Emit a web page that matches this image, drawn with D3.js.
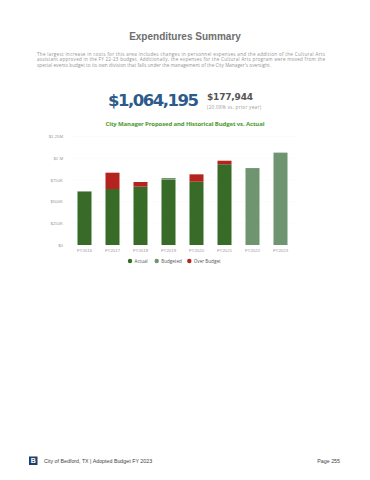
<!DOCTYPE html>
<head>
  <meta charset="utf-8" />
  <script src="https://cdn.jsdelivr.net/npm/d3@7"></script>
  <style>
    body { margin: 0; background: #fff; }
    svg { font-family: "Open Sans", "Liberation Sans", sans-serif; }
  </style>
</head>
<body>
  <svg class="page" width="370" height="480"></svg>
  <script>
    const years = ["FY2016", "FY2017", "FY2018", "FY2019", "FY2020", "FY2021", "FY2022", "FY2023"];
    const actual = [614000, 833000, 726000, 752000, 814000, 971000, null, null];
    const budgeted = [621000, 645000, 672000, 772000, 729000, 930000, 886251, 1064195];
    const yTicks = [0, 250000, 500000, 750000, 1000000, 1250000];
    const tickLabels = ["$0", "$250K", "$500K", "$750K", "$1 M", "$1.25M"];
    const legendNames = ["Actual", "Budgeted", "Over Budget"];

    const cActual = "#376b27", cBudget = "#6e9470", cOver = "#b5231f";
    const svg = d3.select(".page");

    // header
    svg.append("text").attr("x", 185).attr("y", 40).attr("text-anchor", "middle")
      .attr("font-size", 10).attr("font-weight", "bold").attr("fill", "#6e6e6e")
      .attr("font-family", "Liberation Sans, sans-serif").text("Expenditures Summary");
    const para = [
      "The largest increase in costs for this area includes changes in personnel expenses and the addition of the Cultural Arts",
      "assistant approved in the FY 22-23 budget.  Additionally, the expenses for the Cultural Arts program were moved from the",
      "special events budget to its own division that falls under the management of the City Manager's oversight."
    ];
    svg.selectAll("text.para").data(para).enter().append("text").attr("class", "para")
      .attr("x", 37).attr("y", (d, i) => 55.5 + i * 5.8)
      .attr("font-size", 4.6).attr("fill", "#939393").attr("textLength", (d, i) => i === 2 ? 234 : 288)
      .text((d) => d);

    svg.append("text").attr("x", 199).attr("y", 106).attr("text-anchor", "end")
      .attr("font-size", 16.5).attr("font-weight", "bold").attr("fill", "#2c5a8a")
      .attr("font-family", "DejaVu Sans, sans-serif").attr("textLength", 91).text("$1,064,195");
    svg.append("text").attr("x", 207).attr("y", 99.5)
      .attr("font-size", 9).attr("font-weight", "bold").attr("fill", "#555")
      .attr("font-family", "DejaVu Sans, sans-serif").attr("textLength", 46).text("$177,944");
    svg.append("text").attr("x", 207).attr("y", 109)
      .attr("font-size", 4.6).attr("fill", "#999").attr("textLength", 54).text("(20.08% vs. prior year)");

    svg.append("text").attr("x", 185).attr("y", 125.5).attr("text-anchor", "middle")
      .attr("font-size", 6).attr("font-weight", "bold").attr("fill", "#4a9a2c")
      .attr("textLength", 159).text("City Manager Proposed and Historical Budget vs. Actual");

    // chart
    const x = d3.scaleBand().domain(years).range([70.5, 294.5]).paddingInner(0.5).paddingOuter(0.25);
    const y = d3.scaleLinear().domain([0, 1250000]).range([245, 136.5]);

    const grid = svg.append("g");
    grid.selectAll("line").data(yTicks.slice(1)).enter().append("line")
      .attr("x1", 70).attr("x2", 296).attr("y1", (d) => y(d)).attr("y2", (d) => y(d))
      .attr("stroke", "#f1f1f1").attr("stroke-width", 0.5).attr("stroke-dasharray", "1,1");

    const yAxis = svg.append("g").attr("transform", "translate(66,0)")
      .call(d3.axisLeft(y).tickValues(yTicks).tickFormat((d, i) => tickLabels[i]).tickSize(0));
    yAxis.select(".domain").remove();
    yAxis.selectAll("text").attr("font-size", 4.3).attr("fill", "#999").attr("dy", "0.32em");

    const xAxis = svg.append("g").attr("transform", "translate(0,248)")
      .call(d3.axisBottom(x).tickSize(0));
    xAxis.select(".domain").remove();
    xAxis.selectAll("text").attr("font-size", 4.3).attr("fill", "#999").attr("dy", "0.3em");

    const rows = years.map((yr, i) => ({ yr, a: actual[i], b: budgeted[i] }));
    const bars = svg.append("g");
    rows.forEach((r) => {
      const g = bars.append("g");
      if (r.a == null) {
        g.append("rect").attr("x", x(r.yr)).attr("width", x.bandwidth())
          .attr("y", y(r.b)).attr("height", y(0) - y(r.b)).attr("fill", cBudget);
        return;
      }
      const base = Math.min(r.a, r.b);
      g.append("rect").attr("x", x(r.yr)).attr("width", x.bandwidth())
        .attr("y", y(base)).attr("height", y(0) - y(base)).attr("fill", cActual);
      if (r.a > r.b) {
        g.append("rect").attr("x", x(r.yr)).attr("width", x.bandwidth())
          .attr("y", y(r.a)).attr("height", y(r.b) - y(r.a)).attr("fill", cOver);
      } else {
        g.append("rect").attr("x", x(r.yr)).attr("width", x.bandwidth())
          .attr("y", y(r.b)).attr("height", y(r.a) - y(r.b)).attr("fill", cBudget);
      }
    });

    // legend
    const legX = [130, 156.7, 189.3];
    const legColors = [cActual, cBudget, cOver];
    const leg = svg.append("g").selectAll("g").data(legendNames).enter().append("g")
      .attr("transform", (d, i) => `translate(${legX[i]},261)`);
    leg.append("circle").attr("r", 2.2).attr("fill", (d, i) => legColors[i]);
    leg.append("text").attr("x", 4.5).attr("dy", "0.35em").attr("font-size", 4.6).attr("fill", "#555").text((d) => d);

    // footer
    svg.append("rect").attr("x", 29).attr("y", 456.5).attr("width", 8.5).attr("height", 8.5).attr("fill", "#1d3f6e");
    svg.append("text").attr("x", 33.25).attr("y", 463.3).attr("text-anchor", "middle")
      .attr("font-size", 7).attr("font-weight", "bold").attr("fill", "#fff")
      .attr("font-family", "Liberation Sans, sans-serif").text("B");
    svg.append("text").attr("x", 44).attr("y", 463).attr("font-size", 5.3).attr("fill", "#444")
      .attr("font-family", "Liberation Sans, sans-serif").text("City of Bedford, TX | Adopted Budget FY 2023");
    svg.append("text").attr("x", 340).attr("y", 463).attr("text-anchor", "end").attr("font-size", 5.3).attr("fill", "#444")
      .attr("font-family", "Liberation Sans, sans-serif").text("Page 255");
  </script>
</body>
